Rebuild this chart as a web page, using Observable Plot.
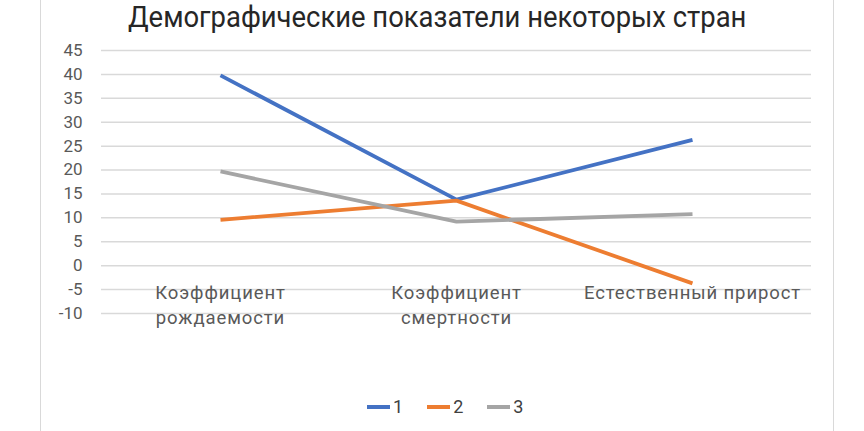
<!DOCTYPE html>
<html><head><meta charset="utf-8">
<script src="https://cdn.jsdelivr.net/npm/d3@7"></script>
<script src="https://cdn.jsdelivr.net/npm/@observablehq/plot@0.6"></script>
<style>
body{margin:0;background:#fff;font-family:Roboto,sans-serif;overflow:hidden}
#wrap{position:relative;width:864px;height:431px;overflow:hidden;background:#fff}
#frame{position:absolute;left:40px;top:-5px;width:792px;height:445px;border-left:1px solid #d9d9d9;border-right:1px solid #d9d9d9;}
#title{position:absolute;left:0;width:874px;top:0px;line-height:34px;text-align:center;color:#262626;white-space:nowrap}
#title span{display:inline-block;font-size:29px;transform:scaleX(0.945);transform-origin:center}
#chart{position:absolute;left:0;top:0}
#legend{position:absolute;top:396px;left:367px;display:flex;align-items:center;font-size:18px;color:#404040}
.item{display:flex;align-items:center;margin-right:24px}
.sw{width:23px;height:4px;margin-right:3px}
</style></head>
<body>
<div id="wrap">
<div id="frame"></div>
<div id="title"><span>Демографические показатели некоторых стран</span></div>
<div id="chart"></div>
<div id="legend"></div>
</div>
<script>
const categories = ["Коэффициент\nрождаемости", "Коэффициент\nсмертности", "Естественный прирост"];
const seriesNames = ["1", "2", "3"];
const series1 = [39.8, 13.8, 26.3];
const series2 = [9.6, 13.6, -3.7];
const series3 = [19.7, 9.2, 10.8];
const colors = ["#4472C4", "#ED7D31", "#A5A5A5"];
const yTicks = [-10, -5, 0, 5, 10, 15, 20, 25, 30, 35, 40, 45];

const allSeries = [series1, series2, series3];
const data = [];
allSeries.forEach((vals, i) => vals.forEach((v, j) => data.push({cat: categories[j], series: seriesNames[i], value: v})));

const chart = Plot.plot({
  width: 864,
  height: 340,
  marginTop: 50,
  marginBottom: 27,
  marginLeft: 101,
  marginRight: 53,
  style: {fontFamily: "Roboto, sans-serif", fontSize: "15px", background: "transparent", overflow: "visible"},
  x: {type: "point", domain: categories, padding: 0.5, axis: null},
  y: {domain: [-10, 45], axis: null, label: null},
  color: {domain: seriesNames, range: colors},
  marks: [
    Plot.ruleY(yTicks, {stroke: "#d9d9d9", strokeWidth: 1.5}),
    Plot.axisY(yTicks, {tickSize: 0, tickPadding: 19, tickFormat: d => String(d), color: "#595959", fontSize: 17, label: null}),
    Plot.text(categories, {x: d => d, y: d => 0, text: d => d, lineAnchor: "top", dy: 16, fill: "#595959", fontSize: 18.5, lineHeight: 1.35}),
    Plot.line(data, {x: "cat", y: "value", stroke: "series", strokeWidth: 3.8, strokeLinecap: "butt", strokeLinejoin: "round"})
  ]
});
document.getElementById("chart").appendChild(chart);
// category labels letter spacing
chart.querySelectorAll("g[aria-label='text'] text").forEach(t => t.setAttribute("letter-spacing", "0.9"));

const legend = document.getElementById("legend");
seriesNames.forEach((s, i) => {
  const it = document.createElement("div"); it.className = "item";
  const sw = document.createElement("div"); sw.className = "sw"; sw.style.background = colors[i];
  const t = document.createElement("span"); t.textContent = s;
  it.appendChild(sw); it.appendChild(t); legend.appendChild(it);
});
</script>
</body></html>
